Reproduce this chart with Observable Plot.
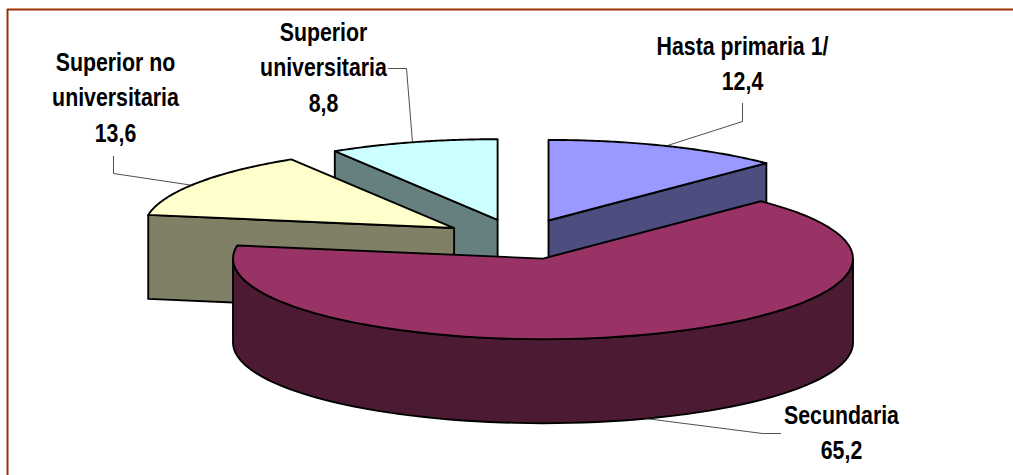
<!DOCTYPE html>
<html><head><meta charset="utf-8">
<script src="https://cdn.jsdelivr.net/npm/d3@7"></script>
<script src="https://cdn.jsdelivr.net/npm/@observablehq/plot@0.6"></script>
<style>html,body{margin:0;padding:0;background:#fff}svg{display:block}</style>
</head><body><div id="c"></div>
<script>
const categories = ["Hasta primaria 1/", "Secundaria", "Superior no universitaria", "Superior universitaria"];
const values = [12.4, 65.2, 13.6, 8.8];
const valueLabels = ["12,4", "65,2", "13,6", "8,8"];
const topColors = ["#9999FF", "#993366", "#FFFFCC", "#CCFFFF"];
const wallColors = ["#4D4D80", "#4D1A33", "#808066", "#668080"];
const labelLines = [
  ["Hasta primaria 1/", "12,4"],
  ["Secundaria", "65,2"],
  ["Superior no", "universitaria", "13,6"],
  ["Superior", "universitaria", "8,8"]
];

const W = 1013, H = 475;
const cx = 518.4, cy = 238.8, rx = 310, tilt = 0.26, explode = 78, depth = 84;
const rad = d => d * Math.PI / 180;
const total = d3.sum(values);
let acc = 0;
const slices = values.map((v, i) => {
  const a0 = acc / total * 360; acc += v; const a1 = acc / total * 360; const mid = (a0 + a1) / 2;
  return {i, a0, a1, ox: cx + explode * Math.sin(rad(mid)), oy: cy - explode * Math.cos(rad(mid)) * tilt};
});
const pt = (s, a, z = 0) => ({x: s.ox + rx * Math.sin(rad(a)), y: s.oy - rx * tilt * Math.cos(rad(a)) + z});
const apex = (s, z = 0) => ({x: s.ox, y: s.oy + z});
const arc = (s, a0, a1, z = 0) => d3.range(0, 73).map(k => pt(s, a0 + (a1 - a0) * k / 72, z));
const topFace = s => [apex(s), ...arc(s, s.a0, s.a1)];
const wall = (p, q) => [p, q, {x: q.x, y: q.y + depth}, {x: p.x, y: p.y + depth}];

const [hp, sec, snu, su] = slices;
const face = (pts, fill) => Plot.line(pts, {x: "x", y: "y", fill, stroke: "#000", strokeWidth: 1.9, curve: "linear-closed", strokeLinejoin: "round"});

const marks = [
  // back slices first
  face(wall(pt(su, su.a0), apex(su)), wallColors[3]),
  face(topFace(su), topColors[3]),
  face(wall(pt(snu, snu.a0), apex(snu)), wallColors[2]),
  face(topFace(snu), topColors[2]),
  face(wall(apex(hp), pt(hp, hp.a1)), wallColors[0]),
  face(topFace(hp), topColors[0]),
  face([...arc(sec, 90, 270), ...arc(sec, 270, 90, depth)], wallColors[1]),
  face(topFace(sec), topColors[1])
];

// leader lines
const leaders = [
  [[742,103],[742,121],[664,146]],
  [[780,433],[762,433],[645,418]],
  [[113,156],[113,173],[193,185]],
  [[388,68],[406,68],[412,142]]
];
leaders.forEach(l => marks.push(Plot.line(l, {x: d => d[0], y: d => d[1], stroke: "#222", strokeWidth: 0.8})));

// labels
const labelAnchors = [[742, 46], [841, 415], [115, 62], [323, 32]];
const lineGap = 35.5;
labelLines.forEach((lines, i) => {
  const rows = lines.map((t, k) => ({t, x: labelAnchors[i][0], y: labelAnchors[i][1] + k * lineGap}));
  marks.push(Plot.text(rows, {x: "x", y: "y", text: "t", fontSize: 26, fontWeight: 700, fontFamily: "'Liberation Sans',Arial,sans-serif", fill: "#000", className: "lbl"}));
});

// frame: top and left edges only
marks.push(Plot.line([{x: 7, y: H}, {x: 7, y: 9}, {x: W, y: 9}], {x: "x", y: "y", stroke: "#993300", strokeWidth: 2}));

const chart = Plot.plot({
  width: W, height: H, margin: 0,
  x: {domain: [0, W], range: [0, W], axis: null},
  y: {domain: [0, H], range: [0, H], axis: null},
  marks
});
document.getElementById("c").append(chart);

// the reference's labels are condensed: squeeze glyphs horizontally
d3.select(chart).selectAll(".lbl text").each(function () {
  const len = this.getComputedTextLength();
  this.setAttribute("lengthAdjust", "spacingAndGlyphs");
  this.setAttribute("textLength", len * 0.82);
});
</script></body></html>
